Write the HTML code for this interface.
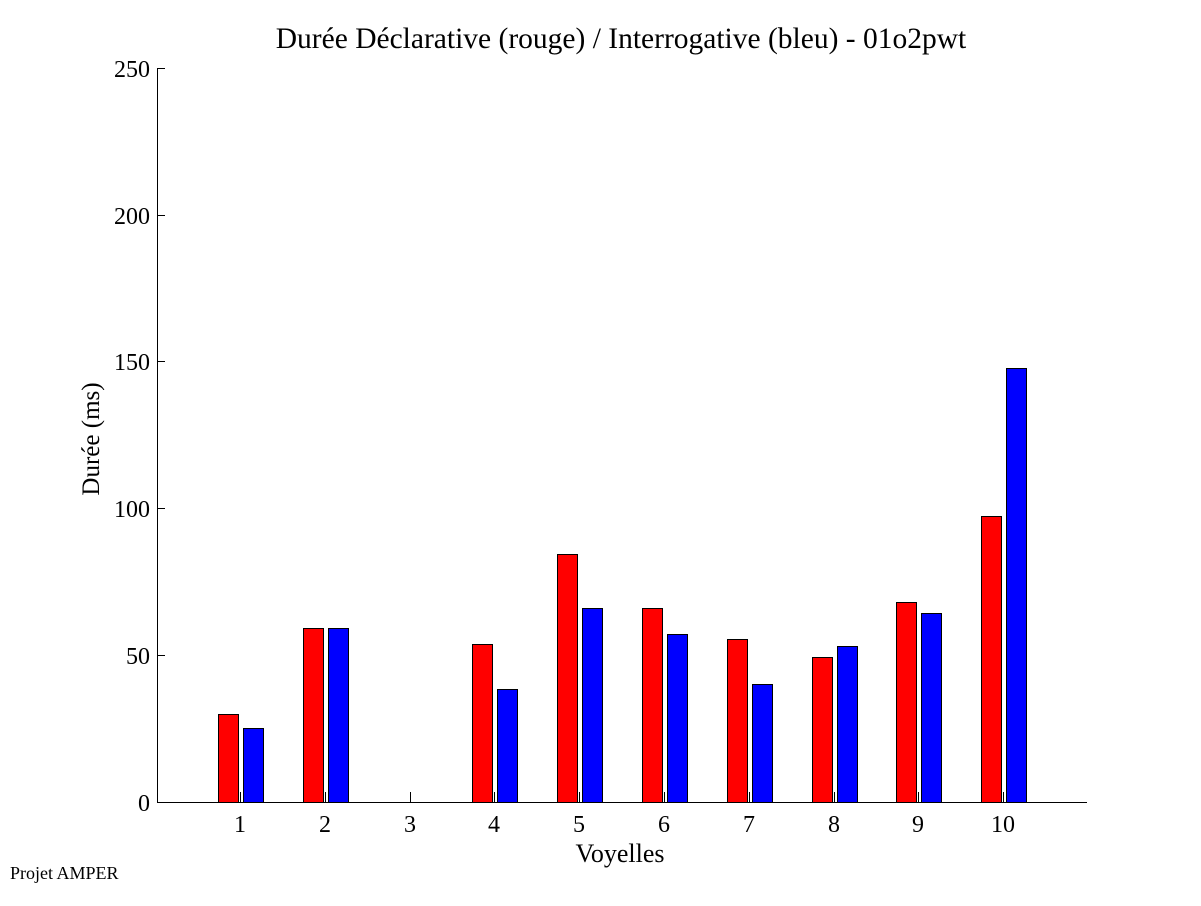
<!DOCTYPE html>
<html><head><meta charset="utf-8"><style>
body{margin:0;background:#fff}
text{font-family:"Liberation Serif",serif;fill:#000}
</style></head><body>
<svg width="1201" height="901" xmlns="http://www.w3.org/2000/svg">
<rect width="1201" height="901" fill="#fff"/>
<text x="621" y="48" font-size="29.5" text-anchor="middle">Durée Déclarative (rouge) / Interrogative (bleu) - 01o2pwt</text>
<g stroke="#000" stroke-width="1" shape-rendering="crispEdges">
<line x1="157.5" y1="68" x2="157.5" y2="802"/>
<line x1="157" y1="802.5" x2="1087" y2="802.5"/>
<line x1="157" y1="68.5" x2="165" y2="68.5"/>
<line x1="157" y1="215.5" x2="165" y2="215.5"/>
<line x1="157" y1="361.5" x2="165" y2="361.5"/>
<line x1="157" y1="508.5" x2="165" y2="508.5"/>
<line x1="157" y1="655.5" x2="165" y2="655.5"/>
</g>
<g font-size="24" text-anchor="end">
<text x="150" y="77">250</text>
<text x="150" y="224">200</text>
<text x="150" y="370">150</text>
<text x="150" y="517">100</text>
<text x="150" y="664">50</text>
<text x="150" y="811">0</text>
</g>
<text transform="translate(99,439) rotate(-90)" font-size="25" text-anchor="middle">Durée (ms)</text>
<text x="620" y="862" font-size="26" text-anchor="middle">Voyelles</text>
<text x="10" y="879" font-size="18">Projet AMPER</text>
<g id="bars" stroke="#000" stroke-width="1" shape-rendering="crispEdges"></g>
<g id="ticks" font-size="24" text-anchor="middle"></g>
<script>
var tops=[[714,728],[628,628],[802,802],[644,689],[554,608],[608,634],[639,684],[657,646],[602,613],[516,368]];
var b=document.getElementById('bars'),t=document.getElementById('ticks'),ns="http://www.w3.org/2000/svg";
for(var i=0;i<10;i++){var x=Math.round(240+i*84.8);
function r(x0,top,c){if(top>=802)return;var e=document.createElementNS(ns,'rect');e.setAttribute('x',x0+0.5);e.setAttribute('y',top+0.5);e.setAttribute('width',20);e.setAttribute('height',802-top);e.setAttribute('fill',c);b.appendChild(e);}
r(x-22,tops[i][0],'#ff0000');r(x+3,tops[i][1],'#0000ff');
var l=document.createElementNS(ns,'line');l.setAttribute('x1',x+0.5);l.setAttribute('x2',x+0.5);l.setAttribute('y1',792);l.setAttribute('y2',802);l.setAttribute('stroke','#000');b.appendChild(l);
var tx=document.createElementNS(ns,'text');tx.setAttribute('x',x);tx.setAttribute('y',832);tx.textContent=(i+1);t.appendChild(tx);}
</script>
</svg>
</body></html>
